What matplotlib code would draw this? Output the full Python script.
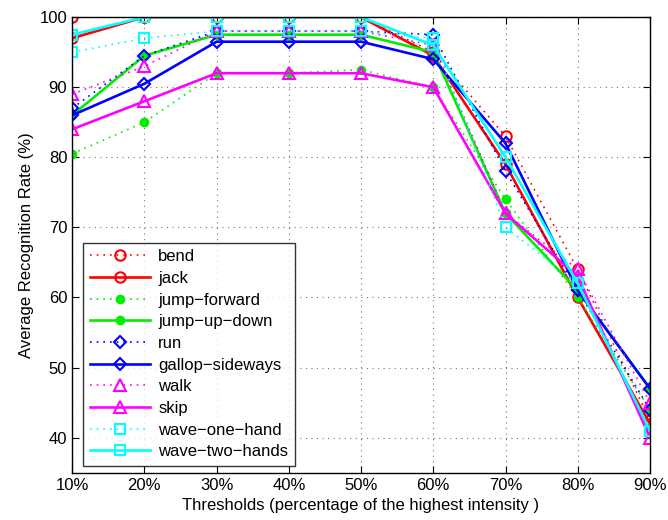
import matplotlib
matplotlib.use('Agg')
import matplotlib.pyplot as plt

plt.rcParams['font.family'] = ['Liberation Sans', 'DejaVu Sans']

thresholds = [10, 20, 30, 40, 50, 60, 70, 80, 90]
xticklabels = ['10%', '20%', '30%', '40%', '50%', '60%', '70%', '80%', '90%']

bend = [100, 100, 100, 100, 100, 95, 83, 64, 42.5]
jack = [97, 100, 100, 100, 100, 94.5, 79, 60, 42]
jump_forward = [80.5, 85, 92, 92, 92.5, 90, 74, 60, 44]
jump_up_down = [86, 94.5, 97.5, 97.5, 97.5, 95, 72, 61, 47]
run = [87, 94.5, 98, 98, 98, 97.5, 78, 61, 44]
gallop_sideways = [86, 90.5, 96.5, 96.5, 96.5, 94, 82, 61, 47]
walk = [89, 93, 98, 98, 98, 96, 72, 64, 45]
skip = [84, 88, 92, 92, 92, 90, 72, 63, 40]
wave_one_hand = [95, 97, 98, 98, 98, 97, 70, 62, 41]
wave_two_hands = [97.5, 100, 100, 100, 100, 96, 80, 62, 41]

series = [
    ('bend', bend, '#ff0000', ':', 'o'),
    ('jack', jack, '#ff0000', '-', 'o'),
    ('jump\u2212forward', jump_forward, '#00ee00', ':', '.'),
    ('jump\u2212up\u2212down', jump_up_down, '#00ee00', '-', '.'),
    ('run', run, '#0000ff', ':', 'D'),
    ('gallop\u2212sideways', gallop_sideways, '#0000ff', '-', 'D'),
    ('walk', walk, '#ff00ff', ':', '^'),
    ('skip', skip, '#ff00ff', '-', '^'),
    ('wave\u2212one\u2212hand', wave_one_hand, '#00ffff', ':', 's'),
    ('wave\u2212two\u2212hands', wave_two_hands, '#00ffff', '-', 's'),
]
msizes = {'o': 7.5, 'D': 6, '^': 8.5, 's': 6.5}

fig = plt.figure(figsize=(6.68, 5.2), dpi=100)
ax = fig.add_axes([0.108, 0.091, 0.865, 0.876])

for name, vals, col, ls, mk in series:
    if ls == ':':
        lw, style = 1.2, (0, (1, 3))
    else:
        lw, style = 1.9, '-'
    if mk == '.':
        ax.plot(thresholds, vals, color=col, linestyle=style, linewidth=lw,
                marker='o', markersize=6, markerfacecolor=col,
                markeredgecolor=col, label=name)
    else:
        ax.plot(thresholds, vals, color=col, linestyle=style, linewidth=lw,
                marker=mk, markersize=msizes[mk], markerfacecolor='none',
                markeredgecolor=col, markeredgewidth=1.5, label=name)

ax.set_xlim(10, 90)
ax.set_ylim(35, 100)
ax.set_xticks(thresholds)
ax.set_xticklabels(xticklabels)
ax.set_yticks([40, 50, 60, 70, 80, 90, 100])
ax.tick_params(direction='in', top=True, right=True, labelsize=12, length=5)
ax.grid(True, linestyle=(0, (1, 4)), color='#777777', linewidth=0.8)
for s in ax.spines.values():
    s.set_linewidth(1.0)

ax.set_xlabel('Thresholds (percentage of the highest intensity )', fontsize=12)
ax.set_ylabel('Average Recognition Rate (%)', fontsize=12)

leg = ax.legend(loc='lower left', bbox_to_anchor=(0.019, 0.015), fontsize=12,
                frameon=True, fancybox=False, edgecolor='black', numpoints=1,
                handlelength=3.6, labelspacing=0.4, borderpad=0.4,
                handletextpad=0.5, borderaxespad=0)
leg.get_frame().set_linewidth(1.0)

fig.savefig('out.png', dpi=100)
